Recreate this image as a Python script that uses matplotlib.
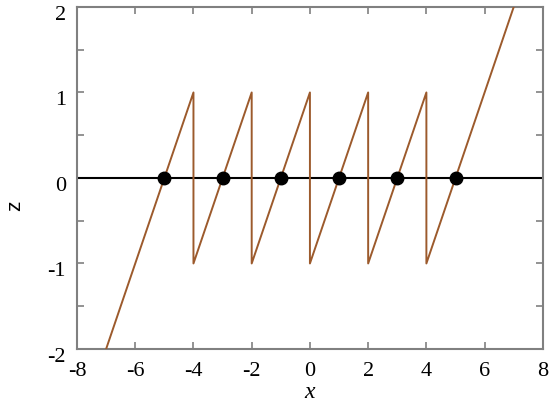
import matplotlib
matplotlib.use("Agg")
import matplotlib.pyplot as plt
from matplotlib.ticker import MultipleLocator
from matplotlib.transforms import ScaledTranslation

# data
x_saw = [-7, -4, -4, -2, -2, 0, 0, 2, 2, 4, 4, 7]
z_saw = [-2, 1, -1, 1, -1, 1, -1, 1, -1, 1, -1, 2]
x_roots = [-5, -3, -1, 1, 3, 5]
z_roots = [0, 0, 0, 0, 0, 0]
x_ticks = [-8, -6, -4, -2, 0, 2, 4, 6, 8]
z_ticks = [-2, -1, 0, 1, 2]

plt.rcParams['font.family'] = ['Liberation Serif', 'DejaVu Serif']

fig = plt.figure(figsize=(5.5, 4.07), dpi=100)
ax = fig.add_axes([0.14, 0.1425, 0.847, 0.8405])

ax.axhline(0, color='black', lw=1.5, zorder=2)
ax.plot(x_saw, z_saw, color='#9c5a2c', lw=1.4, zorder=3)
ax.plot(x_roots, z_roots, 'o', color='black', markersize=9, zorder=4)

ax.set_xlim(-8, 8)
ax.set_ylim(-2, 2)
ax.set_xticks(x_ticks)
ax.set_yticks(z_ticks)
ax.set_xticklabels([str(v) for v in x_ticks])
ax.set_yticklabels([str(v) for v in z_ticks])
ax.yaxis.set_minor_locator(MultipleLocator(0.5))

for s in ax.spines.values():
    s.set_color('#808080')
    s.set_linewidth(1.5)

ax.tick_params(axis='both', which='both', direction='in', top=True, right=True,
               color='#808080', width=1.2, labelsize=16)
ax.tick_params(axis='x', pad=9)
ax.tick_params(axis='y', pad=8)
ax.tick_params(which='major', length=5)
ax.tick_params(which='minor', length=5)

# y tick labels sit slightly below their ticks in the reference
off = ScaledTranslation(0, -6 / 100, fig.dpi_scale_trans)
for lbl in ax.get_yticklabels():
    lbl.set_transform(lbl.get_transform() + off)

ax.set_xlabel('x', fontstyle='italic', fontsize=17, labelpad=1)
fig.text(0.027, 0.495, 'z', rotation=90, fontsize=15,
         family=['Liberation Sans', 'DejaVu Sans'], ha='center', va='center')

fig.savefig('out.png', dpi=100)
